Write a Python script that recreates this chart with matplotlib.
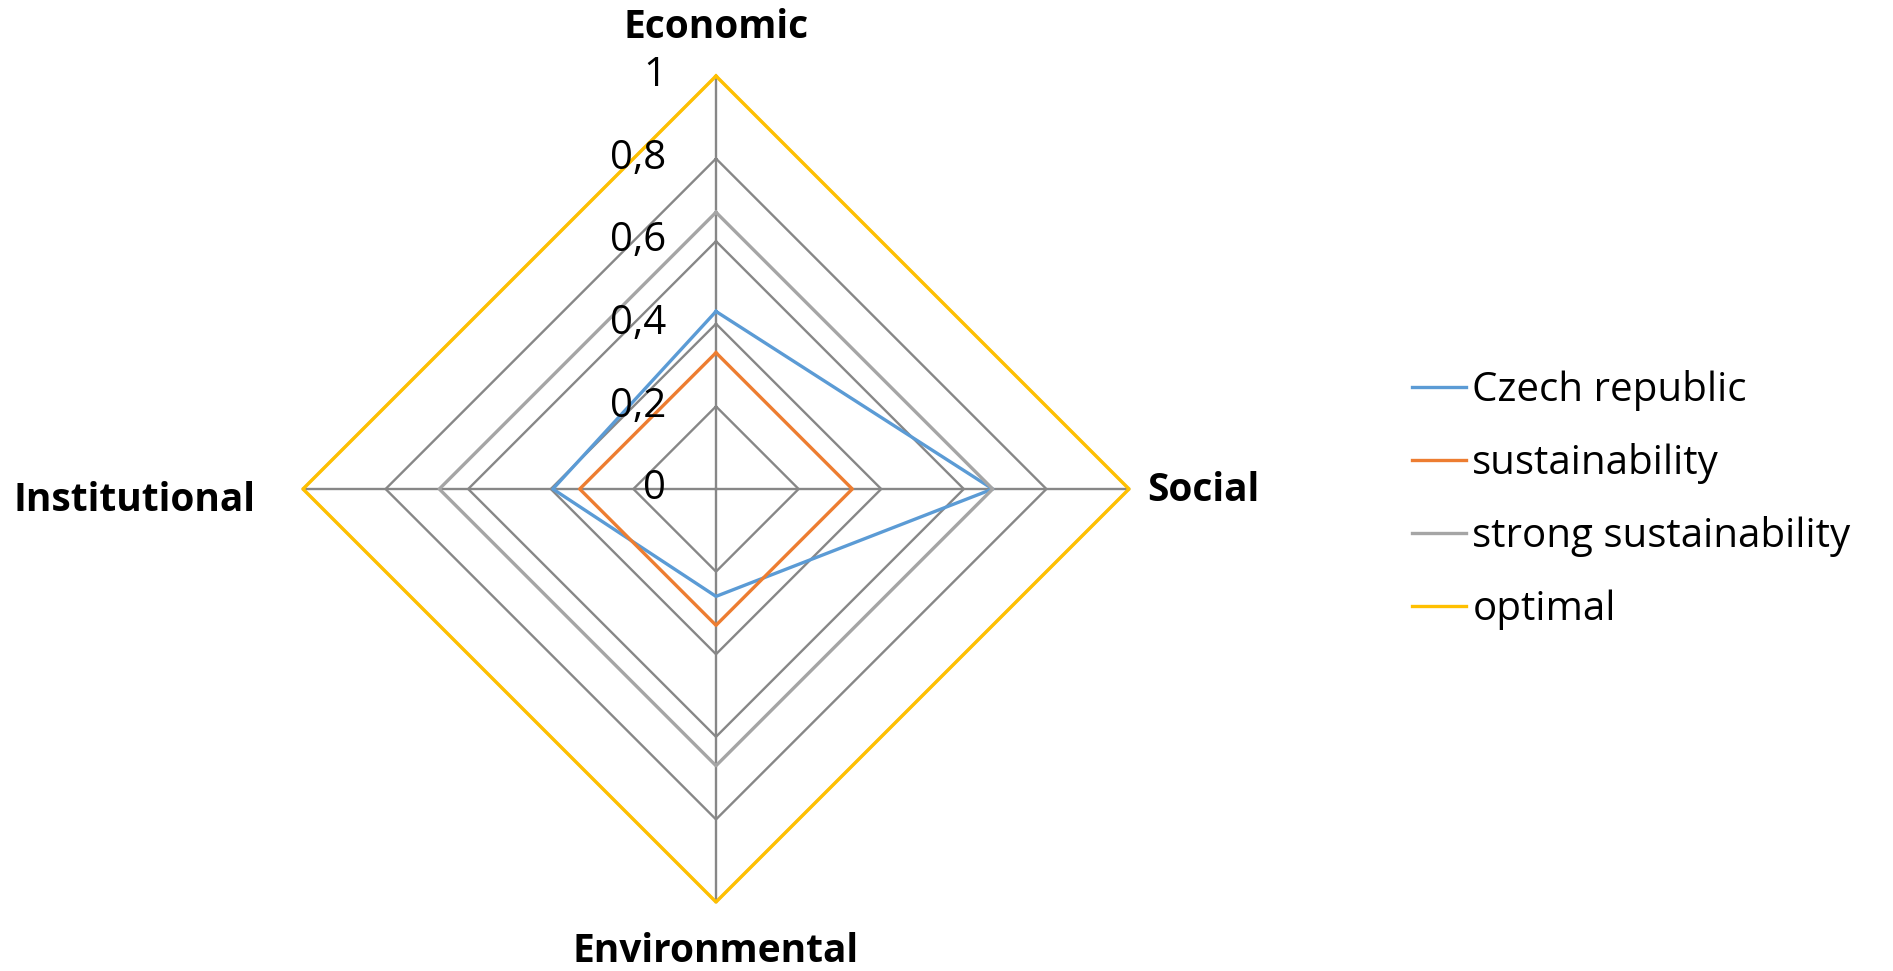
import numpy as np
import matplotlib.pyplot as plt

categories = ['Economic', 'Social', 'Environmental', 'Institutional']
czech = [0.43, 0.67, 0.26, 0.395]
sustainability = [0.33, 0.33, 0.33, 0.33]
strong = [0.67, 0.67, 0.67, 0.67]
optimal = [1, 1, 1, 1]
ticks = [0, 0.2, 0.4, 0.6, 0.8, 1]
tick_labels = ['0', '0,2', '0,4', '0,6', '0,8', '1']

plt.rcParams['font.family'] = ['Open Sans', 'DejaVu Sans']

W, H = 1893, 971
fig = plt.figure(figsize=(W / 100, H / 100), dpi=100)
# center ~ (716, 489) px, radius ~ 413 px
ax = fig.add_axes([303 / W, (H - 902) / H, 826 / W, 826 / H], projection='polar')
ax.set_theta_offset(np.pi / 2)
ax.set_theta_direction(-1)
ax.set_ylim(0, 1)
ax.axis('off')

angles = np.linspace(0, 2 * np.pi, len(categories), endpoint=False)
closed = np.append(angles, angles[0])

def close(v):
    return list(v) + [v[0]]

grid_color = '#878787'
for t in ticks[1:]:
    ax.plot(closed, [t] * len(closed), color=grid_color, lw=1.7, zorder=1, clip_on=False)
for a in angles:
    ax.plot([a, a], [0, 1], color=grid_color, lw=1.7, zorder=1, clip_on=False)

for t, lbl in zip(ticks, tick_labels):
    ax.annotate(lbl, xy=(0, t), xytext=(-36, 0), textcoords='offset points',
                ha='right', va='center', fontsize=29, zorder=5)

series = [
    ('Czech republic', czech, '#5B9BD5'),
    ('sustainability', sustainability, '#ED7D31'),
    ('strong sustainability', strong, '#A5A5A5'),
    ('optimal', optimal, '#FFC000'),
]
for name, vals, col in series:
    ax.plot(closed, close(vals), color=col, lw=2.4, label=name, zorder=3, clip_on=False)

# category labels: offsets in points, alignment
label_style = [
    ((0, 35), 'center', 'center'),
    ((13, -1), 'left', 'center'),
    ((0, -36), 'center', 'center'),
    ((-34, -8), 'right', 'center'),
]
for a, cat, (off, ha, va) in zip(angles, categories, label_style):
    ax.annotate(cat, xy=(a, 1), xytext=off, textcoords='offset points',
                ha=ha, va=va, fontsize=28, fontweight='bold')

fig.legend(loc='center left', bbox_to_anchor=(1412 / W, 1 - 500 / H),
           frameon=False, fontsize=29, handlelength=1.35, handletextpad=0.15,
           labelspacing=0.8, borderpad=0, borderaxespad=0)

fig.savefig('out.png', dpi=100, facecolor='white')
